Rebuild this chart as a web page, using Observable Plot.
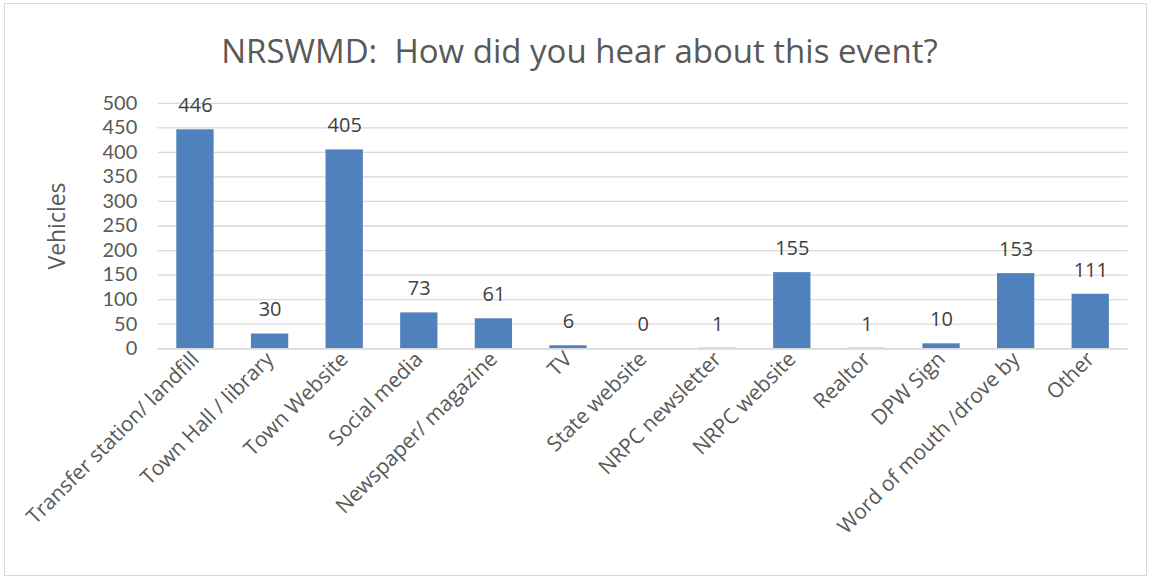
<!DOCTYPE html>
<html><head><meta charset="utf-8">
<script src="https://cdn.jsdelivr.net/npm/d3@7"></script>
<script src="https://cdn.jsdelivr.net/npm/@observablehq/plot@0.6"></script>
<style>
body{margin:0;background:#fff;}
#wrap{position:absolute;left:4px;top:3px;width:1143px;height:573px;border:1.5px solid #d9d9d9;box-sizing:border-box;overflow:hidden;}
#title{position:absolute;left:0px;width:1149px;text-align:center;font-family:"Open Sans",sans-serif;font-size:33px;color:#595959;line-height:33px;top:30px;white-space:pre;}
#chart{position:absolute;left:-5.5px;top:-4.5px;}
</style></head><body>
<div id="wrap"><div id="title">NRSWMD:  How did you hear about this event?</div><div id="chart"></div></div>
<script>
const categories = ["Transfer station/ landfill","Town Hall / library","Town Website","Social media","Newspaper/ magazine","TV","State website","NRPC newsletter","NRPC website","Realtor","DPW Sign","Word of mouth /drove by","Other"];
const values = [446,30,405,73,61,6,0,1,155,1,10,153,111];
const yTicks = [0,50,100,150,200,250,300,350,400,450,500];
const yLabel = "Vehicles";
const data = categories.map((c,i)=>({cat:c,val:values[i]}));
const chart = Plot.plot({
  width:1149, height:579,
  marginLeft:158, marginRight:19, marginTop:103, marginBottom:230,
  style:{fontFamily:"'Open Sans', sans-serif", fontSize:"20px", color:"#595959", background:"transparent"},
  x:{domain:categories, paddingInner:0.5, paddingOuter:0.25, round:false, label:null},
  y:{domain:[0,500], label:null},
  marks:[
    Plot.gridY(yTicks,{stroke:"#d9d9d9",strokeOpacity:1,strokeWidth:1.3}),
    Plot.barY(data,{x:"cat",y:"val",fill:"#4F81BD"}),
    Plot.ruleY([0],{stroke:"#d9d9d9",strokeWidth:1.3}),
    Plot.text(data,{x:"cat",y:"val",text:d=>String(d.val),dy:-24,fill:"#404040",fontSize:20}),
    Plot.axisY({ticks:yTicks,tickSize:0,tickPadding:21,label:null,fontSize:20,fontFamily:"Lato, sans-serif",fill:"#595959"}),
    Plot.text([yLabel],{text:d=>d,frameAnchor:"left",textAnchor:"middle",dx:-101,rotate:-90,fontSize:23,fill:"#595959"}),
    Plot.axisX({tickSize:0,tickPadding:7,tickRotate:-45,label:null,fontSize:21,fill:"#595959"})
  ]
});
document.getElementById("chart").appendChild(chart);
</script></body></html>
